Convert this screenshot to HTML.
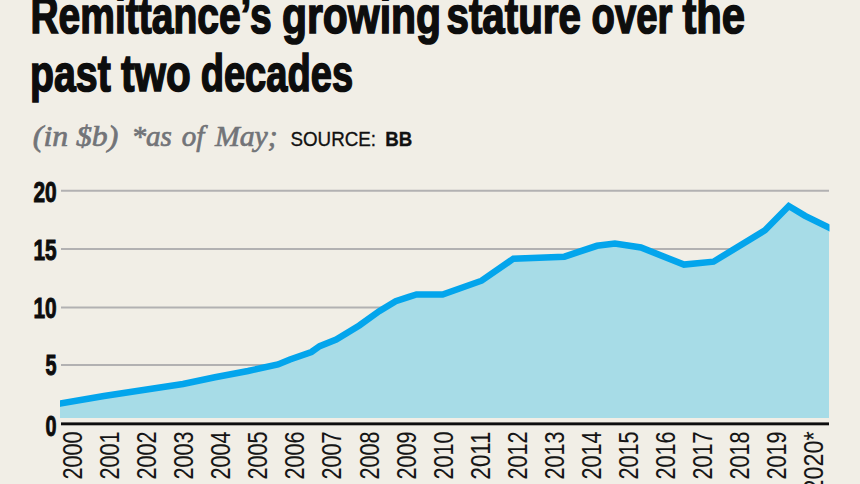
<!DOCTYPE html>
<html><head><meta charset="utf-8"><style>
html,body{margin:0;padding:0;background:#f1eee6;width:860px;height:484px;overflow:hidden}
svg{display:block}
.t{font-family:"Liberation Sans",sans-serif;font-weight:bold;font-size:52px;fill:#0d0d0d;stroke:#0d0d0d;stroke-width:1.6}
.s{font-family:"Liberation Serif",serif;font-style:italic;font-size:30px;fill:#727478;stroke:#727478;stroke-width:0.7}
.src{font-family:"Liberation Sans",sans-serif;font-size:21px;fill:#111;stroke:#111;stroke-width:0.35}
.yl{font-family:"Liberation Sans",sans-serif;font-weight:bold;font-size:30px;fill:#0d0d0d;stroke:#0d0d0d;stroke-width:1}
.xl{font-family:"Liberation Sans",sans-serif;font-size:28px;fill:#151515;stroke:#151515;stroke-width:0.1}
</style></head><body>
<svg width="860" height="484" viewBox="0 0 860 484">
<rect width="860" height="484" fill="#f1eee6"/>
<text x="30.46" y="32.8" class="t" textLength="241.18" lengthAdjust="spacingAndGlyphs">Remittance’s</text>
<text x="281.94" y="32.8" class="t" textLength="159.07" lengthAdjust="spacingAndGlyphs">growing</text>
<text x="446.47" y="32.8" class="t" textLength="134.48" lengthAdjust="spacingAndGlyphs">stature</text>
<text x="591.52" y="32.8" class="t" textLength="80.85" lengthAdjust="spacingAndGlyphs">over</text>
<text x="682.42" y="32.8" class="t" textLength="62.69" lengthAdjust="spacingAndGlyphs">the</text>
<text x="29.99" y="91.2" class="t" textLength="80.80" lengthAdjust="spacingAndGlyphs">past</text>
<text x="120.95" y="91.2" class="t" textLength="69.79" lengthAdjust="spacingAndGlyphs">two</text>
<text x="200.68" y="91.2" class="t" textLength="152.43" lengthAdjust="spacingAndGlyphs">decades</text>


<text x="32.84" y="145.6" class="s" textLength="85.48" lengthAdjust="spacingAndGlyphs">(in $b)</text>
<text x="131.46" y="145.6" class="s" textLength="40.44" lengthAdjust="spacingAndGlyphs">*as</text>
<text x="181.63" y="145.6" class="s" textLength="22.61" lengthAdjust="spacingAndGlyphs">of</text>
<text x="214.90" y="145.6" class="s" textLength="62.74" lengthAdjust="spacingAndGlyphs">May;</text>

<text x="290.5" y="145.6" class="src" textLength="85.5" lengthAdjust="spacingAndGlyphs">SOURCE:</text>
<text x="385.3" y="145.6" class="src" font-weight="bold" textLength="27" lengthAdjust="spacingAndGlyphs">BB</text>
<line x1="61" y1="190.7" x2="829" y2="190.7" stroke="#b2b1b2" stroke-width="2"/>
<line x1="61" y1="249.1" x2="829" y2="249.1" stroke="#b2b1b2" stroke-width="2"/>
<line x1="61" y1="307.4" x2="829" y2="307.4" stroke="#b2b1b2" stroke-width="2"/>
<line x1="61" y1="365.0" x2="829" y2="365.0" stroke="#b2b1b2" stroke-width="2"/>
<path d="M60,418 L60,403.6 L104,396 L150,389 L183,384 L215,377.3 L248,371 L278,364.5 L290,359.5 L311.4,352 L319.7,346.2 L336.2,339.6 L359.3,325.5 L379.2,311.2 L395.7,301.2 L408.9,296.9 L416.5,294.5 L442.6,294.5 L481.6,280.7 L513.4,258.7 L564.4,256.7 L597,245.8 L614.9,243.5 L640.9,247.5 L684,264.6 L713.5,261.7 L765,230.3 L788.8,206 L805.1,215.9 L829,227.6 L829,418 Z" fill="#a7dce7"/>
<clipPath id="cp"><rect x="60" y="150" width="769.5" height="280"/></clipPath><polyline clip-path="url(#cp)" points="55.00,404.46 60.00,403.60 104.00,396.00 150.00,389.00 183.00,384.00 215.00,377.30 248.00,371.00 278.00,364.50 290.00,359.50 311.40,352.00 319.70,346.20 336.20,339.60 359.30,325.50 379.20,311.20 395.70,301.20 408.90,296.90 416.50,294.50 442.60,294.50 481.60,280.70 513.40,258.70 564.40,256.70 597.00,245.80 614.90,243.50 640.90,247.50 684.00,264.60 713.50,261.70 765.00,230.30 788.80,206.00 805.10,215.90 829.00,227.60 834.00,230.05" fill="none" stroke="#03a5ec" stroke-width="6.5" stroke-linejoin="miter" stroke-miterlimit="3"/>
<rect x="61" y="422.4" width="768" height="2.9" fill="#0d0d0d"/>
<text x="56.6" y="201.5" text-anchor="end" class="yl" textLength="23.2" lengthAdjust="spacingAndGlyphs">20</text><text x="56.6" y="259.9" text-anchor="end" class="yl" textLength="23.2" lengthAdjust="spacingAndGlyphs">15</text><text x="56.6" y="318.2" text-anchor="end" class="yl" textLength="23.2" lengthAdjust="spacingAndGlyphs">10</text><text x="56.6" y="375.1" text-anchor="end" class="yl" textLength="11" lengthAdjust="spacingAndGlyphs">5</text><text x="56.6" y="435.90000000000003" text-anchor="end" class="yl" textLength="11" lengthAdjust="spacingAndGlyphs">0</text>
<text transform="translate(82.10,431.5) rotate(-90)" text-anchor="end" class="xl" textLength="48" lengthAdjust="spacingAndGlyphs">2000</text><text transform="translate(119.15,431.5) rotate(-90)" text-anchor="end" class="xl" textLength="48" lengthAdjust="spacingAndGlyphs">2001</text><text transform="translate(156.20,431.5) rotate(-90)" text-anchor="end" class="xl" textLength="48" lengthAdjust="spacingAndGlyphs">2002</text><text transform="translate(193.25,431.5) rotate(-90)" text-anchor="end" class="xl" textLength="48" lengthAdjust="spacingAndGlyphs">2003</text><text transform="translate(230.30,431.5) rotate(-90)" text-anchor="end" class="xl" textLength="48" lengthAdjust="spacingAndGlyphs">2004</text><text transform="translate(267.35,431.5) rotate(-90)" text-anchor="end" class="xl" textLength="48" lengthAdjust="spacingAndGlyphs">2005</text><text transform="translate(304.40,431.5) rotate(-90)" text-anchor="end" class="xl" textLength="48" lengthAdjust="spacingAndGlyphs">2006</text><text transform="translate(341.45,431.5) rotate(-90)" text-anchor="end" class="xl" textLength="48" lengthAdjust="spacingAndGlyphs">2007</text><text transform="translate(378.50,431.5) rotate(-90)" text-anchor="end" class="xl" textLength="48" lengthAdjust="spacingAndGlyphs">2008</text><text transform="translate(415.55,431.5) rotate(-90)" text-anchor="end" class="xl" textLength="48" lengthAdjust="spacingAndGlyphs">2009</text><text transform="translate(452.60,431.5) rotate(-90)" text-anchor="end" class="xl" textLength="48" lengthAdjust="spacingAndGlyphs">2010</text><text transform="translate(489.65,431.5) rotate(-90)" text-anchor="end" class="xl" textLength="48" lengthAdjust="spacingAndGlyphs">2011</text><text transform="translate(526.70,431.5) rotate(-90)" text-anchor="end" class="xl" textLength="48" lengthAdjust="spacingAndGlyphs">2012</text><text transform="translate(563.75,431.5) rotate(-90)" text-anchor="end" class="xl" textLength="48" lengthAdjust="spacingAndGlyphs">2013</text><text transform="translate(600.80,431.5) rotate(-90)" text-anchor="end" class="xl" textLength="48" lengthAdjust="spacingAndGlyphs">2014</text><text transform="translate(637.85,431.5) rotate(-90)" text-anchor="end" class="xl" textLength="48" lengthAdjust="spacingAndGlyphs">2015</text><text transform="translate(674.90,431.5) rotate(-90)" text-anchor="end" class="xl" textLength="48" lengthAdjust="spacingAndGlyphs">2016</text><text transform="translate(711.95,431.5) rotate(-90)" text-anchor="end" class="xl" textLength="48" lengthAdjust="spacingAndGlyphs">2017</text><text transform="translate(749.00,431.5) rotate(-90)" text-anchor="end" class="xl" textLength="48" lengthAdjust="spacingAndGlyphs">2018</text><text transform="translate(786.05,431.5) rotate(-90)" text-anchor="end" class="xl" textLength="48" lengthAdjust="spacingAndGlyphs">2019</text><text transform="translate(823.10,431.5) rotate(-90)" text-anchor="end" class="xl" textLength="61" lengthAdjust="spacingAndGlyphs">2020*</text>
</svg>
</body></html>
